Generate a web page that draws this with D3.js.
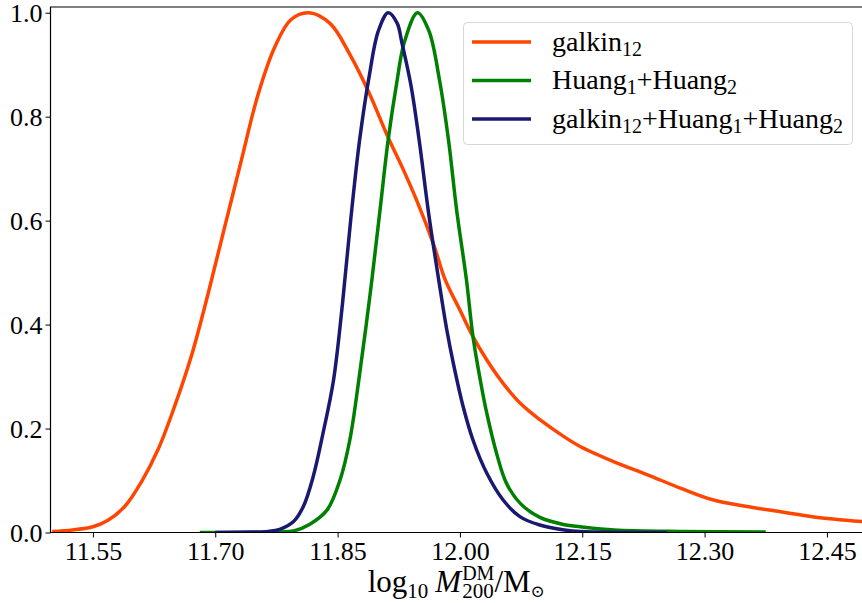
<!DOCTYPE html>
<html lang="en">
<head>
<meta charset="utf-8">
<title>M200 posterior</title>
<script src="https://cdn.jsdelivr.net/npm/d3@7"></script>
<style>
  body { margin: 0; background: #fff; }
  text { font-family: "Liberation Serif", "DejaVu Serif", serif; fill: #000; }
</style>
</head>
<body>
<script>

// x = log10 M200, y = normalised density
var galkinX = [11.500, 11.525, 11.550, 11.568, 11.589, 11.609, 11.630, 11.650, 11.671, 11.691,
               11.711, 11.732, 11.752, 11.773, 11.793, 11.815, 11.841, 11.866, 11.888, 11.912,
               11.930, 11.948, 11.968, 11.982, 12.000, 12.016, 12.033, 12.053, 12.075, 12.098,
               12.128, 12.148, 12.189, 12.230, 12.271, 12.311, 12.352, 12.393, 12.434, 12.494];
var galkinY = [0.002, 0.005, 0.011, 0.023, 0.050, 0.096, 0.160, 0.242, 0.341, 0.458,
               0.584, 0.716, 0.840, 0.934, 0.987, 1.000, 0.979, 0.917, 0.848, 0.760,
               0.700, 0.635, 0.553, 0.486, 0.428, 0.377, 0.332, 0.287, 0.247, 0.217,
               0.184, 0.165, 0.136, 0.111, 0.085, 0.0625, 0.050, 0.040, 0.030, 0.021];

var huangX = [11.681, 11.740, 11.780, 11.796, 11.816, 11.837, 11.853, 11.865, 11.876, 11.890,
              11.902, 11.912, 11.922, 11.932, 11.948, 11.962, 11.975, 11.986, 11.996, 12.008,
              12.016, 12.025, 12.033, 12.045, 12.057, 12.074, 12.098, 12.128, 12.148, 12.189,
              12.271, 12.375];
var huangY = [0.000, 0.000, 0.001, 0.003, 0.016, 0.043, 0.101, 0.178, 0.293, 0.460,
              0.620, 0.755, 0.860, 0.944, 1.000, 0.965, 0.870, 0.755, 0.620, 0.486,
              0.377, 0.293, 0.229, 0.152, 0.095, 0.056, 0.029, 0.015, 0.011, 0.005,
              0.002, 0.001];

var allX = [11.700, 11.745, 11.765, 11.779, 11.796, 11.808, 11.820, 11.832, 11.845, 11.856,
            11.866, 11.877, 11.889, 11.900, 11.912, 11.923, 11.929, 11.940, 11.950, 11.962,
            11.974, 11.984, 11.992, 12.004, 12.016, 12.033, 12.053, 12.074, 12.098, 12.128,
            12.148, 12.254];
var allY = [0.000, 0.001, 0.002, 0.006, 0.021, 0.050, 0.107, 0.190, 0.293, 0.440,
            0.600, 0.755, 0.880, 0.965, 1.000, 0.980, 0.941, 0.860, 0.755, 0.610,
            0.486, 0.389, 0.325, 0.242, 0.178, 0.114, 0.0625, 0.030, 0.0144, 0.005,
            0.002, 0.000];

var xTicks = [11.55, 11.70, 11.85, 12.00, 12.15, 12.30, 12.45];
var yTicks = [0.0, 0.2, 0.4, 0.6, 0.8, 1.0];

var series = [
    {name: [["galkin"], ["12", "sub"]], color: "#ff4500", x: galkinX, y: galkinY},
    {name: [["Huang"], ["1", "sub"], ["+Huang"], ["2", "sub"]], color: "#008000", x: huangX, y: huangY},
    {name: [["galkin"], ["12", "sub"], ["+Huang"], ["1", "sub"], ["+Huang"], ["2", "sub"]], color: "#191970", x: allX, y: allY}
];

var width = 862;
var height = 603;
var plotL = 50.5, plotR = 862, plotT = 7, plotB = 532.5;

var x = d3.scaleLinear().domain([11.498, 12.493]).range([plotL, plotR]);
var y = d3.scaleLinear().domain([0, 1.011]).range([plotB, plotT]);

var svg = d3.select("body").append("svg")
    .attr("width", width)
    .attr("height", height);

svg.append("clipPath").attr("id", "clip")
    .append("rect")
    .attr("x", plotL).attr("y", plotT)
    .attr("width", plotR - plotL).attr("height", plotB - plotT);

var line = d3.line()
    .x(function (d) { return x(d[0]); })
    .y(function (d) { return y(Math.max(0, d[1])); })
    .curve(d3.curveCatmullRom.alpha(0.5));

series.forEach(function (s) {
    var pts = s.x.map(function (v, i) { return [v, s.y[i]]; });
    svg.append("path")
        .attr("d", line(pts))
        .attr("fill", "none")
        .attr("stroke", s.color)
        .attr("stroke-width", 3.5)
        .attr("stroke-linejoin", "round")
        .attr("clip-path", "url(#clip)");
});

// axes
var xAxis = svg.append("g")
    .attr("transform", "translate(0," + plotB + ")")
    .call(d3.axisBottom(x).tickValues(xTicks).tickFormat(d3.format(".2f")).tickSize(5).tickSizeOuter(0));
var yAxis = svg.append("g")
    .attr("transform", "translate(" + plotL + ",0)")
    .call(d3.axisLeft(y).tickValues(yTicks).tickFormat(d3.format(".1f")).tickSize(5).tickSizeOuter(0));

[xAxis, yAxis].forEach(function (g) {
    g.select(".domain").remove();
    g.selectAll("line").attr("stroke", "#000").attr("stroke-width", 1);
    g.selectAll("text").attr("font-family", "Liberation Serif").attr("font-size", 26).attr("fill", "#000");
});
xAxis.selectAll("text").attr("dy", null).attr("y", 27.5);
yAxis.selectAll("text").attr("x", -8).attr("dy", "0.34em");

// spines (no right spine in the picture)
svg.append("path")
    .attr("d", "M" + plotR + "," + plotT + "H" + plotL + "V" + plotB + "H" + plotR)
    .attr("fill", "none")
    .attr("stroke", "#000")
    .attr("stroke-width", 1.2);

// legend
var lg = svg.append("g");
lg.append("rect")
    .attr("x", 463.5).attr("y", 22.5)
    .attr("width", 389).attr("height", 122)
    .attr("rx", 4)
    .attr("fill", "#fff").attr("fill-opacity", 0.8)
    .attr("stroke", "#d6d6d6").attr("stroke-width", 1);

series.forEach(function (s, i) {
    var cy = 42 + i * 38.5;
    lg.append("line")
        .attr("x1", 472).attr("x2", 531)
        .attr("y1", cy).attr("y2", cy)
        .attr("stroke", s.color).attr("stroke-width", 3.5);
    var t = lg.append("text")
        .attr("x", 552).attr("y", cy + 8.5)
        .attr("font-size", 28);
    var low = false;
    s.name.forEach(function (part) {
        var ts = t.append("tspan").text(part[0]);
        if (part[1] === "sub") {
            ts.attr("font-size", 20).attr("dy", low ? 0 : 5);
            low = true;
        } else {
            ts.attr("dy", low ? -5 : 0);
            low = false;
        }
    });
});

// x label: log10 M_200^DM / M_sun, pieces laid out one by one
var lab = svg.append("g");
var pieces = [
    {t: "log", size: 31, dy: 0},
    {t: "10", size: 21, dy: 6, gap: 7},
    {t: "M", size: 31, dy: 0, italic: true, gap: 1},
    {t: "200", size: 21, dy: 6, stack: "DM"},
    {t: "/M", size: 31, dy: 0},
    {t: "\u2299", size: 17, dy: 5}
];
var cx = 0;
pieces.forEach(function (p) {
    var el = lab.append("text")
        .attr("x", cx).attr("y", p.dy)
        .attr("font-size", p.size)
        .attr("font-style", p.italic ? "italic" : null)
        .text(p.t);
    var w = el.node().getComputedTextLength();
    if (p.stack) {
        var up = lab.append("text")
            .attr("x", cx).attr("y", -12)
            .attr("font-size", 20)
            .text(p.stack);
        w = Math.max(w, up.node().getComputedTextLength());
    }
    cx += w + (p.gap || 0);
});
lab.attr("transform", "translate(" + ((plotL + plotR) / 2 - cx / 2) + ",592)");

</script>
</body>
</html>
